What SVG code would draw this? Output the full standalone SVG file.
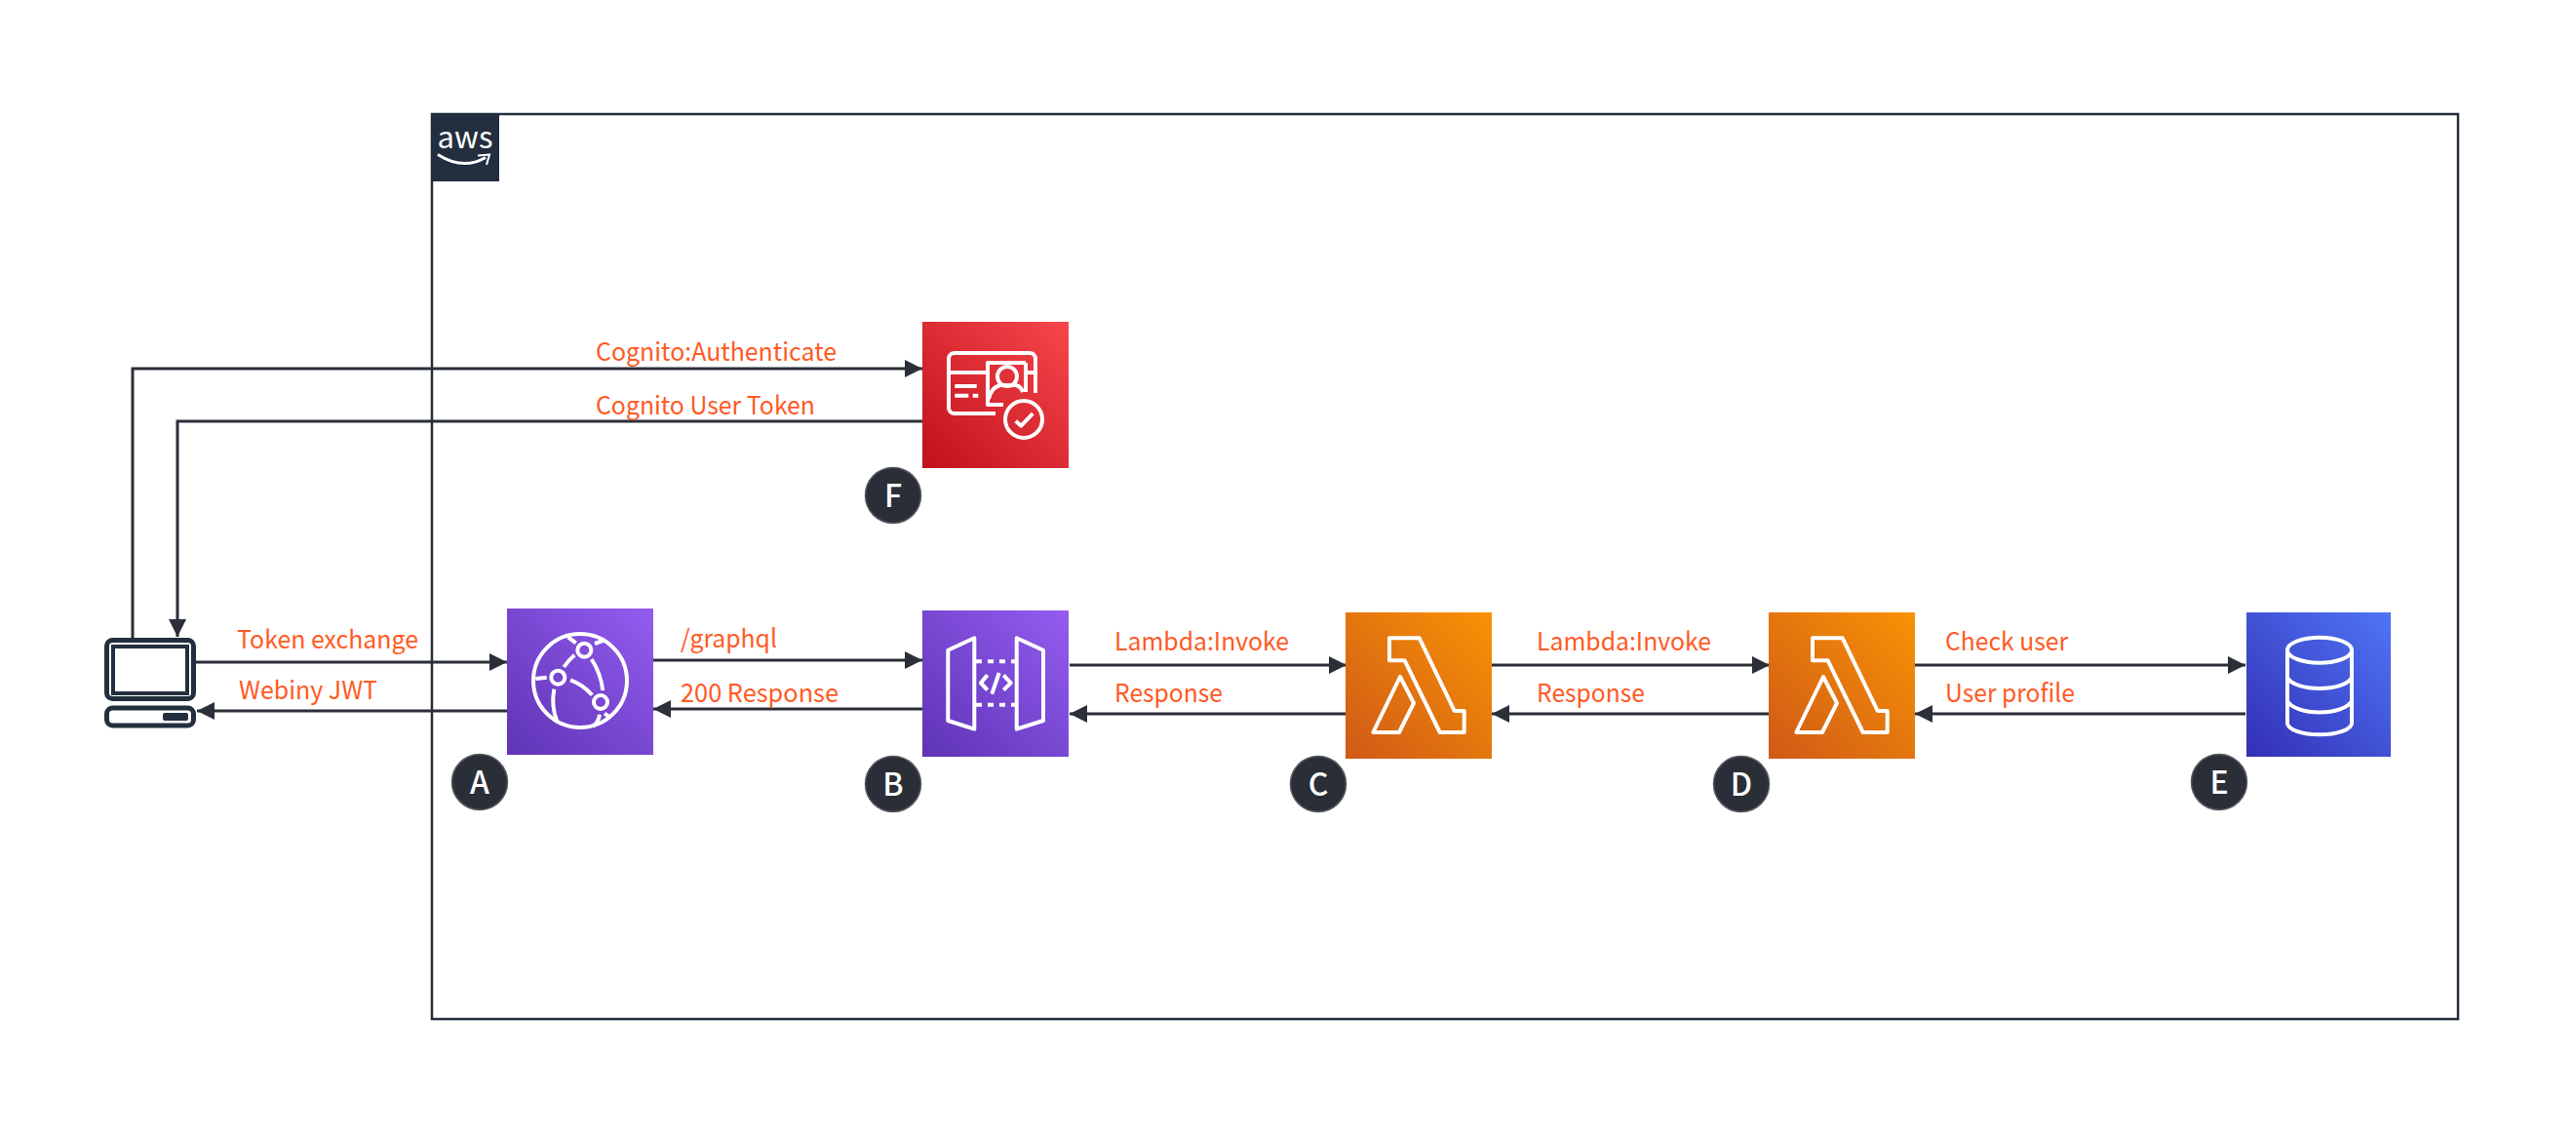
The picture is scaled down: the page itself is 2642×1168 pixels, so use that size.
<svg xmlns="http://www.w3.org/2000/svg" xmlns:xlink="http://www.w3.org/1999/xlink" width="2642" height="1168" viewBox="0 0 2642 1168">
<style>
.lbl{font-family:"Noto Sans CJK SC","Noto Sans",sans-serif;font-size:26px;fill:#ff5a24}
.wire{fill:none;stroke:#2a2f38;stroke-width:3}
.ico{fill:none;stroke:#fff;stroke-width:4;stroke-linejoin:round}
.badge{fill:#2a2e37;stroke:#55585e;stroke-width:1.5}
.bt{font-family:"Noto Sans CJK SC","Noto Sans",sans-serif;font-size:32px;font-weight:500;fill:#fff;text-anchor:middle}
.pc{fill:none;stroke:#232f3e;stroke-width:5}
</style>
<defs>
<linearGradient id="gp" x1="0" y1="1" x2="1" y2="0"><stop offset="0" stop-color="#5e34b5"/><stop offset="1" stop-color="#945cf0"/></linearGradient>
<linearGradient id="go" x1="0" y1="1" x2="1" y2="0"><stop offset="0" stop-color="#cf5a17"/><stop offset="1" stop-color="#f99205"/></linearGradient>
<linearGradient id="gr" x1="0" y1="1" x2="1" y2="0"><stop offset="0" stop-color="#c0101c"/><stop offset="1" stop-color="#f7474c"/></linearGradient>
<linearGradient id="gb" x1="0" y1="1" x2="1" y2="0"><stop offset="0" stop-color="#332fb5"/><stop offset="1" stop-color="#4f75f5"/></linearGradient>
<marker id="ah" markerUnits="userSpaceOnUse" markerWidth="18" markerHeight="18" viewBox="0 0 18 18" refX="18" refY="9" orient="auto"><path d="M0,0L18,9L0,18Z" fill="#2a2f38"/></marker>
<g id="lam">
<path class="ico" d="M1425,654.3H1455.7L1491.7,729H1501.7V751H1476.7L1440.7,677.3H1425Z"/>
<path class="ico" d="M1436,694L1450,721L1435,751H1408.3Z"/>
</g>
</defs>
<rect width="2642" height="1168" fill="#fff"/>
<g id="aws-cloud">
<rect x="443" y="117" width="2078" height="928" fill="none" stroke="#232f3e" stroke-width="2.5"/>
<rect x="442" y="116" width="70" height="70" fill="#232f3e"/>
<text x="477" y="152" font-family="'Noto Sans CJK SC','Noto Sans',sans-serif" font-size="31" font-weight="400" fill="#fff" text-anchor="middle">aws</text>
<path d="M449,158.5Q475,175 498,161.5" fill="none" stroke="#fff" stroke-width="3"/>
<path d="M490,159.5L502,158.5L499,169" fill="none" stroke="#fff" stroke-width="2"/>
</g>
<g id="connectors">
<path class="wire" marker-end="url(#ah)" d="M136,654V378H946"/>
<path class="wire" marker-end="url(#ah)" d="M946,432H182V653"/>
<path class="wire" marker-end="url(#ah)" d="M201,679H520"/>
<path class="wire" marker-end="url(#ah)" d="M520,729H202"/>
<path class="wire" marker-end="url(#ah)" d="M670,677H946"/>
<path class="wire" marker-end="url(#ah)" d="M946,727H670"/>
<path class="wire" marker-end="url(#ah)" d="M1097,682H1381"/>
<path class="wire" marker-end="url(#ah)" d="M1380,732H1097"/>
<path class="wire" marker-end="url(#ah)" d="M1530,682H1815"/>
<path class="wire" marker-end="url(#ah)" d="M1814,732H1530"/>
<path class="wire" marker-end="url(#ah)" d="M1964,682H2303"/>
<path class="wire" marker-end="url(#ah)" d="M2303,732H1964"/>
</g>
<g id="labels" lengthAdjust="spacingAndGlyphs">
<text class="lbl" x="611" y="370" textLength="247" lengthAdjust="spacingAndGlyphs">Cognito:Authenticate</text>
<text class="lbl" x="611" y="425" textLength="225" lengthAdjust="spacingAndGlyphs">Cognito User Token</text>
<text class="lbl" x="243" y="665" textLength="186" lengthAdjust="spacingAndGlyphs">Token exchange</text>
<text class="lbl" x="245" y="717" textLength="142" lengthAdjust="spacingAndGlyphs">Webiny JWT</text>
<text class="lbl" x="698" y="664" textLength="99" lengthAdjust="spacingAndGlyphs">/graphql</text>
<text class="lbl" x="698" y="720" textLength="162" lengthAdjust="spacingAndGlyphs">200 Response</text>
<text class="lbl" x="1143" y="667" textLength="179" lengthAdjust="spacingAndGlyphs">Lambda:Invoke</text>
<text class="lbl" x="1143" y="720" textLength="111" lengthAdjust="spacingAndGlyphs">Response</text>
<text class="lbl" x="1576" y="667" textLength="179" lengthAdjust="spacingAndGlyphs">Lambda:Invoke</text>
<text class="lbl" x="1576" y="720" textLength="111" lengthAdjust="spacingAndGlyphs">Response</text>
<text class="lbl" x="1995" y="667" textLength="126" lengthAdjust="spacingAndGlyphs">Check user</text>
<text class="lbl" x="1995" y="720" textLength="133" lengthAdjust="spacingAndGlyphs">User profile</text>
</g>
<g id="client">
<rect class="pc" x="109.500" y="656.500" width="89" height="60" rx="6"/>
<rect x="116" y="663" width="76" height="48" fill="none" stroke="#232f3e" stroke-width="4"/>
<rect class="pc" x="109.500" y="726" width="89" height="18" rx="6"/>
<rect x="167" y="731" width="26" height="8" rx="2" fill="#232f3e"/>
</g>
<g id="cloudfront">
<rect x="520" y="624" width="150" height="150" fill="url(#gp)"/>
<g class="ico" stroke-linecap="butt">
<circle cx="595" cy="698" r="48"/>
<circle cx="599.300" cy="666.700" r="7"/>
<circle cx="572.300" cy="694.700" r="7"/>
<circle cx="616" cy="720" r="7"/>
<path d="M578.300,684Q583,677 589.300,671.700M606.700,676Q616,690 618.300,708M585,697.300Q598,702 607.300,712.700M549.300,696L560.700,694.700M568.300,706.700Q565,725 571.700,740.700M582.700,653.300L590.700,659.300M610,660L619.300,656.700M615,732.700Q614,740 608,745M620,731.700L625,735"/>
</g>
</g>
<g id="api-gateway">
<rect x="946" y="626" width="150" height="150" fill="url(#gp)"/>
<path class="ico" d="M972.300,666.700L999.300,654.300V747.700L972.300,739ZM1042.700,654.300L1070,666.700V739L1042.700,747.700ZM1012.700,692.300L1006,700.300L1012.700,707.700M1029.300,692.300L1036.700,700.300L1029.300,707.700M1024.700,690L1017.300,711.700"/>
<path class="ico" stroke-dasharray="6 6" d="M1001,678.300H1043M1001,722.700H1043"/>
</g>
<g id="lambda-c">
<rect x="1380" y="628" width="150" height="150" fill="url(#go)"/>
<use xlink:href="#lam" href="#lam"/>
</g>
<g id="lambda-d">
<rect x="1814" y="628" width="150" height="150" fill="url(#go)"/>
<use xlink:href="#lam" href="#lam" x="434"/>
</g>
<g id="database">
<rect x="2304" y="628" width="148" height="148" fill="url(#gb)"/>
<g class="ico">
<ellipse cx="2379" cy="666.700" rx="33" ry="13"/>
<path d="M2346,667V741.500C2346,748 2361,753.300 2379,753.300C2397,753.300 2412,748 2412,741.500V667M2346,695C2350,702 2364,706 2379,706C2394,706 2408,702 2412,695M2346,719C2350,726 2364,730.500 2379,730.500C2394,730.500 2408,726 2412,719"/>
</g>
</g>
<g id="cognito">
<rect x="946" y="330" width="150" height="150" fill="url(#gr)"/>
<g class="ico">
<path d="M1021,424H979A6,6 0 0 1 973,418V368A6,6 0 0 1 979,362H1056A6,6 0 0 1 1062,368V403M973,382H1012M1052,382H1062M1052,372V402M1029,415H1013V372H1052M1014,409Q1017,397 1026,395H1042Q1047,396 1049,402"/>
<circle cx="1033" cy="386" r="10"/>
<path d="M979.300,396H1001.700M979.300,405.700H993.300M997.700,405.700H1003.300"/>
<circle cx="1050" cy="430" r="19"/>
<path d="M1041.700,431.700L1047.300,436.700L1059.300,424"/>
</g>
</g>
<g id="badge-a"><circle class="badge" cx="492" cy="802" r="28.500"/><text class="bt" x="492" y="814">A</text></g>
<g id="badge-b"><circle class="badge" cx="916" cy="804" r="28.500"/><text class="bt" x="916" y="816">B</text></g>
<g id="badge-c"><circle class="badge" cx="1352" cy="804" r="28.500"/><text class="bt" x="1352" y="816">C</text></g>
<g id="badge-d"><circle class="badge" cx="1786" cy="804" r="28.500"/><text class="bt" x="1786" y="816">D</text></g>
<g id="badge-e"><circle class="badge" cx="2276" cy="802" r="28.500"/><text class="bt" x="2276" y="814">E</text></g>
<g id="badge-f"><circle class="badge" cx="916" cy="508" r="28.500"/><text class="bt" x="916" y="520">F</text></g>
</svg>
